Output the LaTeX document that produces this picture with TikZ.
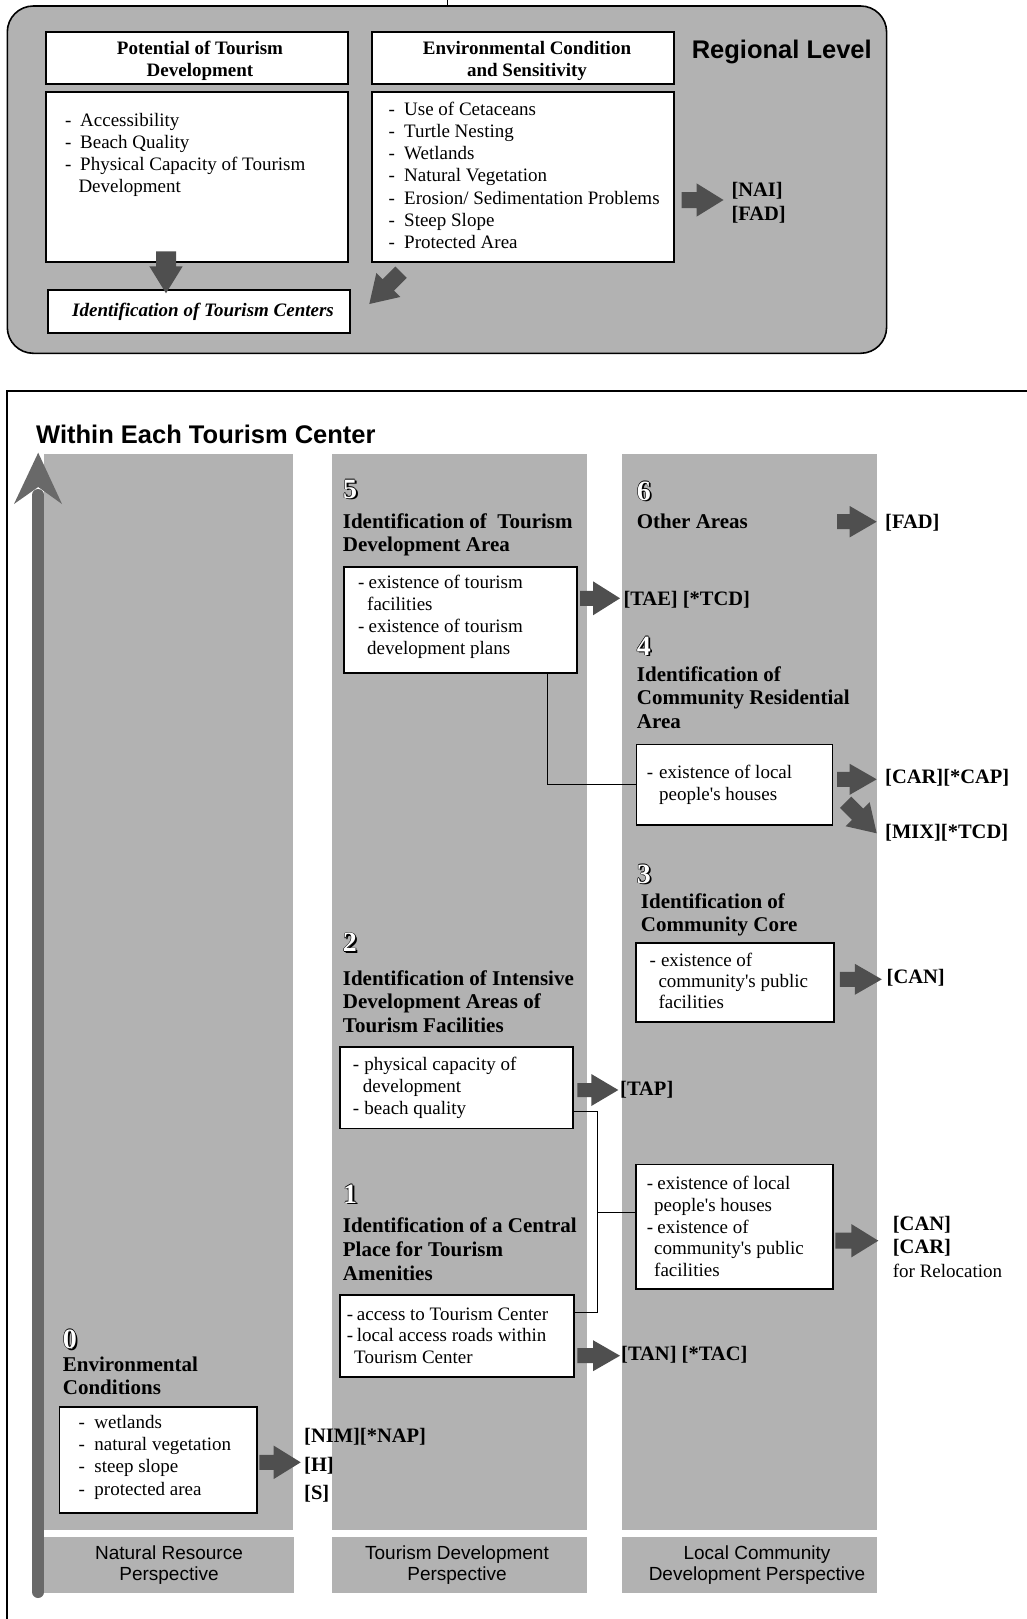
\documentclass[tikz,border=0pt]{standalone}
\usepackage{fontspec}
\setmainfont{Liberation Serif}
\setsansfont{Liberation Sans}
\usetikzlibrary{calc}

\definecolor{panel}{gray}{0.70}
\definecolor{arrowdark}{gray}{0.31}
\definecolor{axisgray}{gray}{0.41}

% font sizes (1pt = 1 unit of the picture)
\newcommand\fbody{\fontsize{19}{22}\selectfont}
\newcommand\fhead{\fontsize{21}{23.8}\selectfont\bfseries}
\newcommand\ftop{\fontsize{19}{22}\selectfont\bfseries}
\newcommand\flabel{\fontsize{20.5}{23.5}\selectfont\bfseries}
\newcommand\ftitle{\sffamily\fontsize{25.5}{30}\selectfont\bfseries}
\newcommand\fpersp{\sffamily\fontsize{19}{21.4}\selectfont}
\newcommand\fdigit{\fontsize{28}{30}\selectfont\bfseries}

% list item with a dash in a fixed-width slot
\newcommand\itm[2]{\makebox[#1][l]{-}#2}
\newcommand\cont[2]{\hspace*{#1}#2}
\newcommand\apos{\textquotesingle}

% white step numeral with dark outline and drop shadow
\newcommand\outdigit[1]{%
  \makebox[0pt][l]{\kern1.8pt\raisebox{-1.8pt}{\textcolor{black}{#1}}}%
  \makebox[0pt][l]{\kern0.6pt\textcolor{black}{#1}}%
  \makebox[0pt][l]{\kern-0.6pt\textcolor{black}{#1}}%
  \makebox[0pt][l]{\raisebox{0.6pt}{\textcolor{black}{#1}}}%
  \makebox[0pt][l]{\raisebox{-0.6pt}{\textcolor{black}{#1}}}%
  \textcolor{white}{#1}}

% block arrow: #1 rotation, #2 tip coordinate, #3 total length,
% #4 shaft half width, #5 head half width
\newcommand\blockarrow[5]{%
  \fill[arrowdark, shift={(#2)}, rotate=#1]
    (0,0) -- (-27,-#5) -- (-27,-#4) -- (-#3,-#4) -- (-#3,#4)
    -- (-27,#4) -- (-27,#5) -- cycle;}

\begin{document}
\begin{tikzpicture}[x=1pt, y=-1pt,
  box/.style={draw=black, line width=1.6pt, fill=white, inner sep=0pt,
    outer sep=0pt, anchor=north west},
  txt/.style={anchor=north west, inner sep=0pt, align=left},
  ctxt/.style={anchor=north, inner sep=0pt, align=center},
  lab/.style={anchor=base west, inner sep=0pt, font=\flabel},
  digit/.style={anchor=base west, inner sep=0pt, font=\fdigit},
  link/.style={draw=black, line width=1.5pt}]

\useasboundingbox (0,0) rectangle (1027,1619);
\fill[white] (0,0) rectangle (1027,1619);

% ---------------- Regional level ----------------
\draw[line width=1pt] (447,0) -- (447,6);
\draw[line width=1.6pt, fill=panel, rounded corners=26pt]
  (7.3,6) rectangle (886.6,353.3);

\node[box, minimum width=302pt, minimum height=52pt] (hPot) at (46,32) {};
\node[box, minimum width=302pt, minimum height=170pt] (bPot) at (46,92) {};
\node[box, minimum width=302pt, minimum height=52pt] (hEnv) at (372,32) {};
\node[box, minimum width=302pt, minimum height=170pt] (bEnv) at (372,92) {};
\node[box, minimum width=302pt, minimum height=43pt] (bTC) at (48,290) {};

\node[ctxt, font=\ftop] (tPotH) at (200,38.6)
  {\strut Potential of Tourism\\Development};
\node[ctxt, font=\ftop] (tEnvH) at (527,38.6)
  {\strut Environmental Condition\\and Sensitivity};
\node[txt, font=\fbody] (tPot) at (65,110.6)
  {\strut\itm{15pt}{Accessibility}\\
   \itm{15pt}{Beach Quality}\\
   \itm{15pt}{Physical Capacity of Tourism}\\
   \cont{13.3pt}{Development}};
\node[txt, font=\fontsize{19}{22.2}\selectfont] (tEnv) at (388.3,99.5)
  {\strut\itm{15.7pt}{Use of Cetaceans}\\
   \itm{15.7pt}{Turtle Nesting}\\
   \itm{15.7pt}{Wetlands}\\
   \itm{15.7pt}{Natural Vegetation}\\
   \itm{15.7pt}{Erosion/ Sedimentation Problems}\\
   \itm{15.7pt}{Steep Slope}\\
   \itm{15.7pt}{Protected Area}};
\node[anchor=base, inner sep=0pt, font=\ftop\itshape] (tTC) at (203,316.7)
  {Identification of Tourism Centers};

\node[anchor=base west, inner sep=0pt, font=\ftitle] (regional) at (691.6,58.3)
  {Regional Level};
\node[txt, font=\fontsize{20.5}{23.3}\selectfont\bfseries] (lNAI) at (731.3,180.4)
  {\strut[NAI]\\{}[FAD]};

\coordinate (tipNAI) at (723.5,200);
\coordinate (tipTC) at (166,293.3);
\coordinate (tipEnv) at (369.3,304);
\blockarrow{0}{tipNAI}{42}{8}{16.7}
\blockarrow{-90}{tipTC}{42}{10}{16.7}
\blockarrow{-135}{tipEnv}{45}{8}{17}

% ---------------- Within each tourism center ----------------
\draw[line width=2pt] (7.3,1625) -- (7.3,390.7) -- (1035,390.7);
\node[anchor=base west, inner sep=0pt, font=\ftitle] (within) at (36,443.3)
  {Within Each Tourism Center};

% perspective columns
\fill[panel] (44,454) rectangle (292.7,1530);
\fill[panel] (331.7,454) rectangle (586.7,1530);
\fill[panel] (621.7,454) rectangle (876.7,1530);
\fill[panel] (44,1536.7) rectangle (294,1592.7);
\fill[panel] (331.7,1536.7) rectangle (586.7,1592.7);
\fill[panel] (621.7,1536.7) rectangle (876.7,1592.7);
\node[ctxt, font=\fpersp] (pNat) at (169,1544.3) {\strut Natural Resource\\Perspective};
\node[ctxt, font=\fpersp] (pTour) at (457,1544.3) {\strut Tourism Development\\Perspective};
\node[ctxt, font=\fpersp] (pLoc) at (757,1544.3) {\strut Local Community\\Development Perspective};

% upward axis
\coordinate (axisBase) at (38.2,1592);
\coordinate (axisTip) at (38.2,452.7);
\draw[axisgray, line width=12pt, line cap=round] (axisBase) -- (38.2,495);
\fill[axisgray] (axisTip) -- (62,504) -- (38.2,487) -- (14,504) -- cycle;

% step numerals
\node[digit] (n5) at (343,498) {\outdigit{5}};
\node[digit] (n6) at (636.7,500) {\outdigit{6}};
\node[digit] (n4) at (636.7,655) {\outdigit{4}};
\node[digit] (n3) at (636.7,883) {\outdigit{3}};
\node[digit] (n2) at (342.7,951.7) {\outdigit{2}};
\node[digit] (n1) at (343,1203) {\outdigit{1}};
\node[digit] (n0) at (62.7,1348.3) {\outdigit{0}};

% step headings
\node[txt, font=\fhead] (h5) at (342.7,511.3)
  {\strut Identification of~~Tourism\\Development Area};
\node[txt, font=\fhead] (h6) at (636.7,511.6) {\strut Other Areas};
\node[txt, font=\fhead] (h4) at (636.7,664.3)
  {\strut Identification of\\Community Residential\\Area};
\node[txt, font=\fhead] (h3) at (640.7,891.3)
  {\strut Identification of\\Community Core};
\node[txt, font=\fhead] (h2) at (342.7,968.3)
  {\strut Identification of Intensive\\Development Areas of\\Tourism Facilities};
\node[txt, font=\fhead] (h1) at (342.7,1216)
  {\strut Identification of a Central\\Place for Tourism\\Amenities};
\node[txt, font=\fhead] (h0) at (62.7,1354.3)
  {\strut Environmental\\Conditions};

% criteria boxes
\node[box, minimum width=232.7pt, minimum height=106pt] (b5) at (344,567) {};
\node[box, minimum width=195.8pt, minimum height=80.2pt] (b4) at (636.5,744.5) {};
\node[box, minimum width=198.3pt, minimum height=79.3pt] (b3) at (635.7,942.7) {};
\node[box, minimum width=232.7pt, minimum height=81.6pt] (b2) at (340,1046.7) {};
\node[box, minimum width=196.7pt, minimum height=124.7pt] (bR) at (636,1164.3) {};
\node[box, minimum width=234pt, minimum height=81.7pt] (b1) at (340,1295) {};
\node[box, minimum width=197.4pt, minimum height=106pt] (b0) at (59.3,1406.7) {};

\node[txt, font=\fbody] (t5) at (358,572.6)
  {\strut\itm{10.5pt}{existence of tourism}\\
   \cont{9pt}{facilities}\\
   \itm{10.5pt}{existence of tourism}\\
   \cont{9pt}{development plans}};
\node[txt, font=\fbody] (t4) at (646.7,762.9)
  {\strut\itm{12.3pt}{existence of local}\\
   \cont{12.3pt}{people\apos s houses}};
\node[txt, font=\fontsize{19}{21}\selectfont] (t3) at (649.3,952)
  {\strut\itm{11.5pt}{existence of}\\
   \cont{9pt}{community\apos s public}\\
   \cont{9pt}{facilities}};
\node[txt, font=\fbody] (t2) at (352.7,1055.3)
  {\strut\itm{11.5pt}{physical capacity of}\\
   \cont{10pt}{development}\\
   \itm{11.5pt}{beach quality}};
\node[txt, font=\fontsize{19}{21.9}\selectfont] (tR) at (646.7,1173.7)
  {\strut\itm{10.5pt}{existence of local}\\
   \cont{7.3pt}{people\apos s houses}\\
   \itm{10.5pt}{existence of}\\
   \cont{7.3pt}{community\apos s public}\\
   \cont{7.3pt}{facilities}};
\node[txt, font=\fontsize{19}{21.7}\selectfont] (t1) at (346.7,1304.8)
  {\strut\itm{10pt}{access to Tourism Center}\\
   \itm{10pt}{local access roads within}\\
   \cont{7.3pt}{Tourism Center}};
\node[txt, font=\fontsize{19}{22.2}\selectfont] (t0) at (78.3,1412.8)
  {\strut\itm{16pt}{wetlands}\\
   \itm{16pt}{natural vegetation}\\
   \itm{16pt}{steep slope}\\
   \itm{16pt}{protected area}};

% connectors between criteria boxes
\draw[link] ($(b5.south west)+(203.7,0)$) |- (b4.west);
\coordinate (jn) at (597.7,1212.3);
\draw[link] ($(b2.south east)+(0,-16.6)$) -| (jn)
  |- ($(b1.north east)+(0,17.7)$);
\draw[link] (jn) -- (jn -| bR.west);

% result arrows and class labels
\coordinate (tipFAD) at (876.7,521.7);
\coordinate (tipTAE) at (620,598.3);
\coordinate (tipCAR) at (876.7,779.3);
\coordinate (tipMIX) at (876.7,833.3);
\coordinate (tipCAN) at (881.8,979.3);
\coordinate (tipTAP) at (618.3,1090);
\coordinate (tipCANR) at (878.3,1240.7);
\coordinate (tipTAN) at (620,1355.7);
\coordinate (tipNIM) at (300.7,1462.3);
\blockarrow{0}{tipFAD}{39.5}{7.5}{15.7}
\blockarrow{0}{tipTAE}{40}{7.5}{17}
\blockarrow{0}{tipCAR}{39.5}{7.5}{15.5}
\blockarrow{-45}{tipMIX}{44}{8}{17}
\blockarrow{0}{tipCAN}{42}{7.5}{15.5}
\blockarrow{0}{tipTAP}{41}{7}{16}
\blockarrow{0}{tipCANR}{43}{8}{16.7}
\blockarrow{0}{tipTAN}{42.7}{7.5}{15.5}
\blockarrow{0}{tipNIM}{41.4}{7.5}{16.7}

\node[lab] (lFAD) at (885,528.3) {[FAD]};
\node[lab] (lTAE) at (623.3,605) {[TAE] [*TCD]};
\node[lab] (lCAR) at (885,783.3) {[CAR][*CAP]};
\node[lab] (lMIX) at (885,838.3) {[MIX][*TCD]};
\node[lab] (lCAN) at (886.5,983.3) {[CAN]};
\node[lab] (lTAP) at (620,1095) {[TAP]};
\node[txt, font=\flabel] (lCANR) at (892.7,1213.6)
  {\strut[CAN]\\{}[CAR]\\{\fbody\mdseries for Relocation}};
\node[lab] (lTAN) at (621,1360) {[TAN] [*TAC]};
\node[txt, font=\fontsize{20.5}{28.3}\selectfont\bfseries] (lNIM) at (304,1422.9)
  {\strut[NIM][*NAP]\\{}[H]\\{}[S]};

\end{tikzpicture}
\end{document}
